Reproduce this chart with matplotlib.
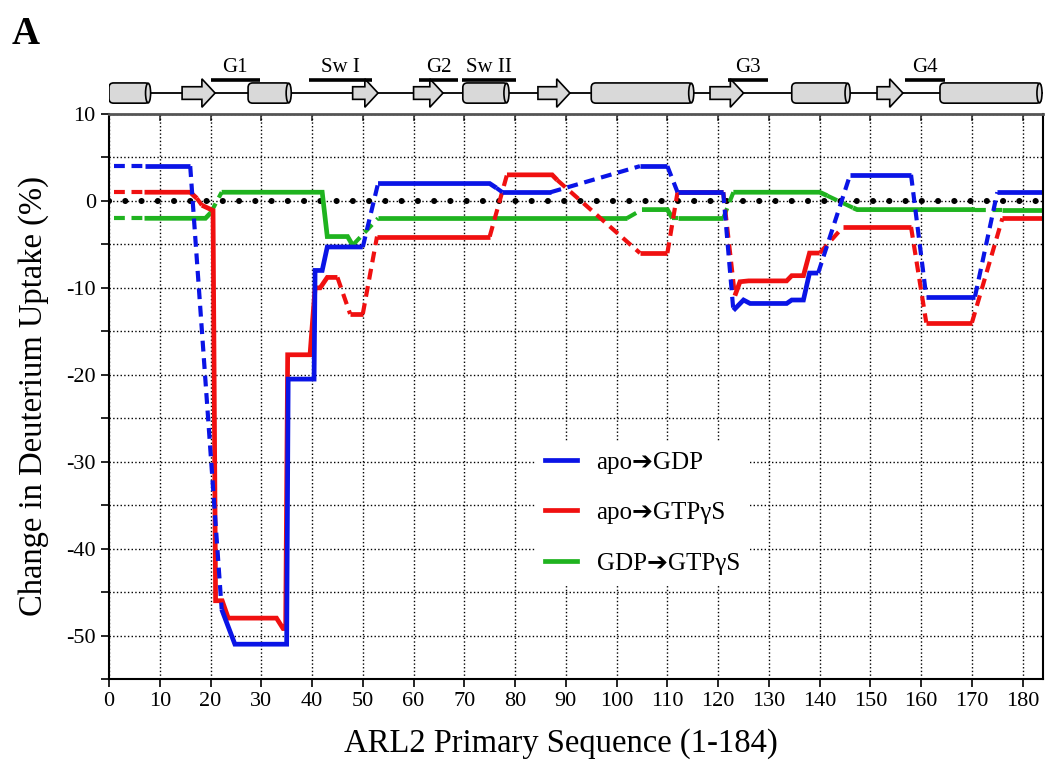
import matplotlib
matplotlib.use("Agg")
import matplotlib.pyplot as plt
from matplotlib.patches import FancyBboxPatch, Ellipse, FancyArrow
from matplotlib.ticker import MultipleLocator

plt.rcParams['font.family'] = ['Liberation Serif', 'DejaVu Sans']
plt.rcParams['axes.unicode_minus'] = False

# deuterium uptake differences along the sequence (breakpoints)
gdp_x = [1, 7, 16, 22.2, 24.8, 35, 35.3, 40.4, 40.6, 42, 43, 50, 53, 75, 76.3, 77.5, 87,
         104.6, 110, 112, 121, 123, 125, 126.3, 133.5, 134.5, 136.8, 138, 139.7, 146,
         158, 161, 170.6, 175, 184]
gdp_y = [4, 4, 4, -47, -51, -51, -20.5, -20.5, -8, -8, -5.3, -5.3, 2, 2, 1.5, 1, 1,
         4, 4, 1, 1, -12.6, -11.4, -11.8, -11.8, -11.4, -11.4, -8.3, -8.3, 3,
         3, -11, -11, 1, 1]
gdp_gaps = [0, 2, 11, 14, 16, 18, 20, 28, 30, 32]

gtp_x = [1, 7, 16, 17.3, 18.3, 20.5, 21, 22.3, 23.5, 33, 34.3, 34.8, 35.2, 39.6, 40.6,
         41.6, 43, 45, 47.5, 50, 52.8, 75, 78.4, 87.3, 88.3, 104.6, 110, 112, 121,
         123.3, 124.3, 126, 133.5, 134.5, 136.8, 138, 140, 144.6, 158, 161, 170, 176, 184]
gtp_y = [1, 1, 1, 0.3, -0.5, -1.1, -46, -46, -48, -48, -49.2, -49.2, -17.7, -17.7, -10,
         -10, -8.8, -8.8, -13, -13, -4.1, -4.1, 3, 3, 2.4, -6, -6, 1, 1,
         -10.9, -9.3, -9.2, -9.2, -8.6, -8.6, -6, -6, -3, -3, -14, -14, -2, -2]
gtp_gaps = [0, 3, 17, 19, 21, 24, 26, 28, 36, 38, 40]

swap_x = [1, 7, 19, 20, 22.2, 42, 43, 47, 48, 53, 102, 105, 110, 111, 112, 121, 123,
          140, 141.5, 146.6, 147.4, 170.6, 176, 184]
swap_y = [-2, -2, -2, -1.4, 1, 1, -4.1, -4.1, -5.1, -2, -2, -1, -1, -2, -2, -2, 1,
          1, 0.6, -0.8, -1, -1, -1, -1]
swap_gaps = [0, 3, 8, 10, 13, 15, 18, 21]

# secondary structure of ARL2
helices = [(0, 8), (27.4, 35.7), (69.7, 78.6), (95, 115), (134.5, 145.8), (163.7, 183.6)]
strands = [(14.4, 20.9), (48, 53), (60, 65.8), (84.5, 90.8), (118.4, 125), (151.3, 156.4)]
motifs = [('G1', 20, 29.7), ('Sw I', 39.4, 51.8), ('G2', 61, 68.8), ('Sw II', 69.6, 80.2),
          ('G3', 122, 129.8), ('G4', 156.8, 164.7)]


def draw_series(ax, xs, ys, gaps, color, label):
    # join consecutive segments of the same style into one polyline
    n = len(xs) - 1
    i = 0
    while i < n:
        dashed = i in gaps
        j = i
        while j + 1 < n and ((j + 1) in gaps) == dashed:
            j += 1
        seg_x = xs[i:j + 2]
        seg_y = ys[i:j + 2]
        if dashed:
            ax.plot(seg_x, seg_y, color=color, lw=3.0, linestyle=(0, (2.6, 1.6)),
                    solid_joinstyle='round')
        else:
            ax.plot(seg_x, seg_y, color=color, lw=3.4, solid_joinstyle='miter',
                    solid_capstyle='butt')
        i = j + 1
    ax.plot([], [], color=color, lw=3.4, label=label)


fig = plt.figure(figsize=(10.47, 7.61), dpi=100)
ax = fig.add_axes([0.1041, 0.1078, 0.8921, 0.7424])

draw_series(ax, swap_x, swap_y, swap_gaps, '#1fb31f', 'GDP\u2794GTP\u03b3S')
draw_series(ax, gtp_x, gtp_y, gtp_gaps, '#f01010', 'apo\u2794GTP\u03b3S')
draw_series(ax, gdp_x, gdp_y, gdp_gaps, '#0a14e6', 'apo\u2794GDP')

ax.axhline(0, color='k', lw=4.4, linestyle=(0, (0.01, 2.65)), dash_capstyle='round', zorder=1)

ax.set_xlim(0, 184)
ax.set_ylim(-55, 10)
ax.xaxis.set_major_locator(MultipleLocator(10))
ax.yaxis.set_major_locator(MultipleLocator(10))
ax.yaxis.set_minor_locator(MultipleLocator(5))
ax.grid(axis='x', which='major', linestyle=':', color='k', lw=1)
ax.grid(axis='y', which='both', linestyle=':', color='k', lw=1)
ax.set_axisbelow(True)
ax.tick_params(axis='both', which='major', labelsize=16, direction='out', length=6, width=1.2)
ax.tick_params(axis='y', which='minor', direction='out', length=6, width=1.2)
for side in ['left', 'bottom', 'right']:
    ax.spines[side].set_linewidth(1.5)
ax.spines['top'].set_color('#555555')
ax.spines['top'].set_linewidth(2)

# short inward ticks along the top edge
sec = ax.secondary_xaxis('top')
sec.xaxis.set_major_locator(MultipleLocator(10))
sec.tick_params(direction='in', length=5, width=1.2, labeltop=False, color='#333333')
sec.spines['top'].set_visible(False)

ax.set_xlabel('ARL2 Primary Sequence (1-184)', fontsize=23.5)
ax.xaxis.set_label_coords(0.484, -0.087)
ax.set_ylabel('Change in Deuterium Uptake (%)', fontsize=23.5)
ax.yaxis.set_label_coords(-0.064, 0.5)

handles, labels = ax.get_legend_handles_labels()
order = [2, 1, 0]
leg = ax.legend([handles[k] for k in order], [labels[k] for k in order],
                loc='lower left', bbox_to_anchor=(0.443, 0.145), fontsize=18,
                handlelength=1.25, labelspacing=1.12, frameon=True, framealpha=1,
                edgecolor='none', facecolor='white', handletextpad=0.8)
for line in leg.get_lines():
    line.set_linewidth(3.4)

# secondary structure track above the plot
top = fig.add_axes([0.1041, 0.852, 0.8921, 0.083])
top.set_xlim(0, 184)
top.set_ylim(0, 1)
top.axis('off')
yc = 0.31
top.plot([0, 184], [yc, yc], color='k', lw=1.3, zorder=1)
aspect = (1 / 63) / (1 / 5.076)
for x0, x1 in helices:
    body = FancyBboxPatch((x0, yc - 0.16), x1 - x0, 0.32,
                          boxstyle='round,pad=0,rounding_size=0.9', mutation_aspect=aspect,
                          fc='#d9d9d9', ec='k', lw=1.2, zorder=2)
    top.add_patch(body)
    top.add_patch(Ellipse((x1 - 0.3, yc), 1.0, 0.31, fc='#d9d9d9', ec='k', lw=1.2, zorder=3))
for x0, x1 in strands:
    top.add_patch(FancyArrow(x0, yc, x1 - x0, 0, width=0.2, head_width=0.45,
                             head_length=2.6, length_includes_head=True,
                             fc='#d9d9d9', ec='k', lw=1.2, zorder=2))
for name, x0, x1 in motifs:
    top.plot([x0, x1], [0.52, 0.52], color='k', lw=2.6, solid_capstyle='butt')
    top.text((x0 + x1) / 2, 0.57, name, ha='center', va='bottom', fontsize=15)

fig.text(0.011, 0.942, 'A', fontsize=28, fontweight='bold', ha='left', va='baseline')

fig.savefig('out.png', dpi=100)
